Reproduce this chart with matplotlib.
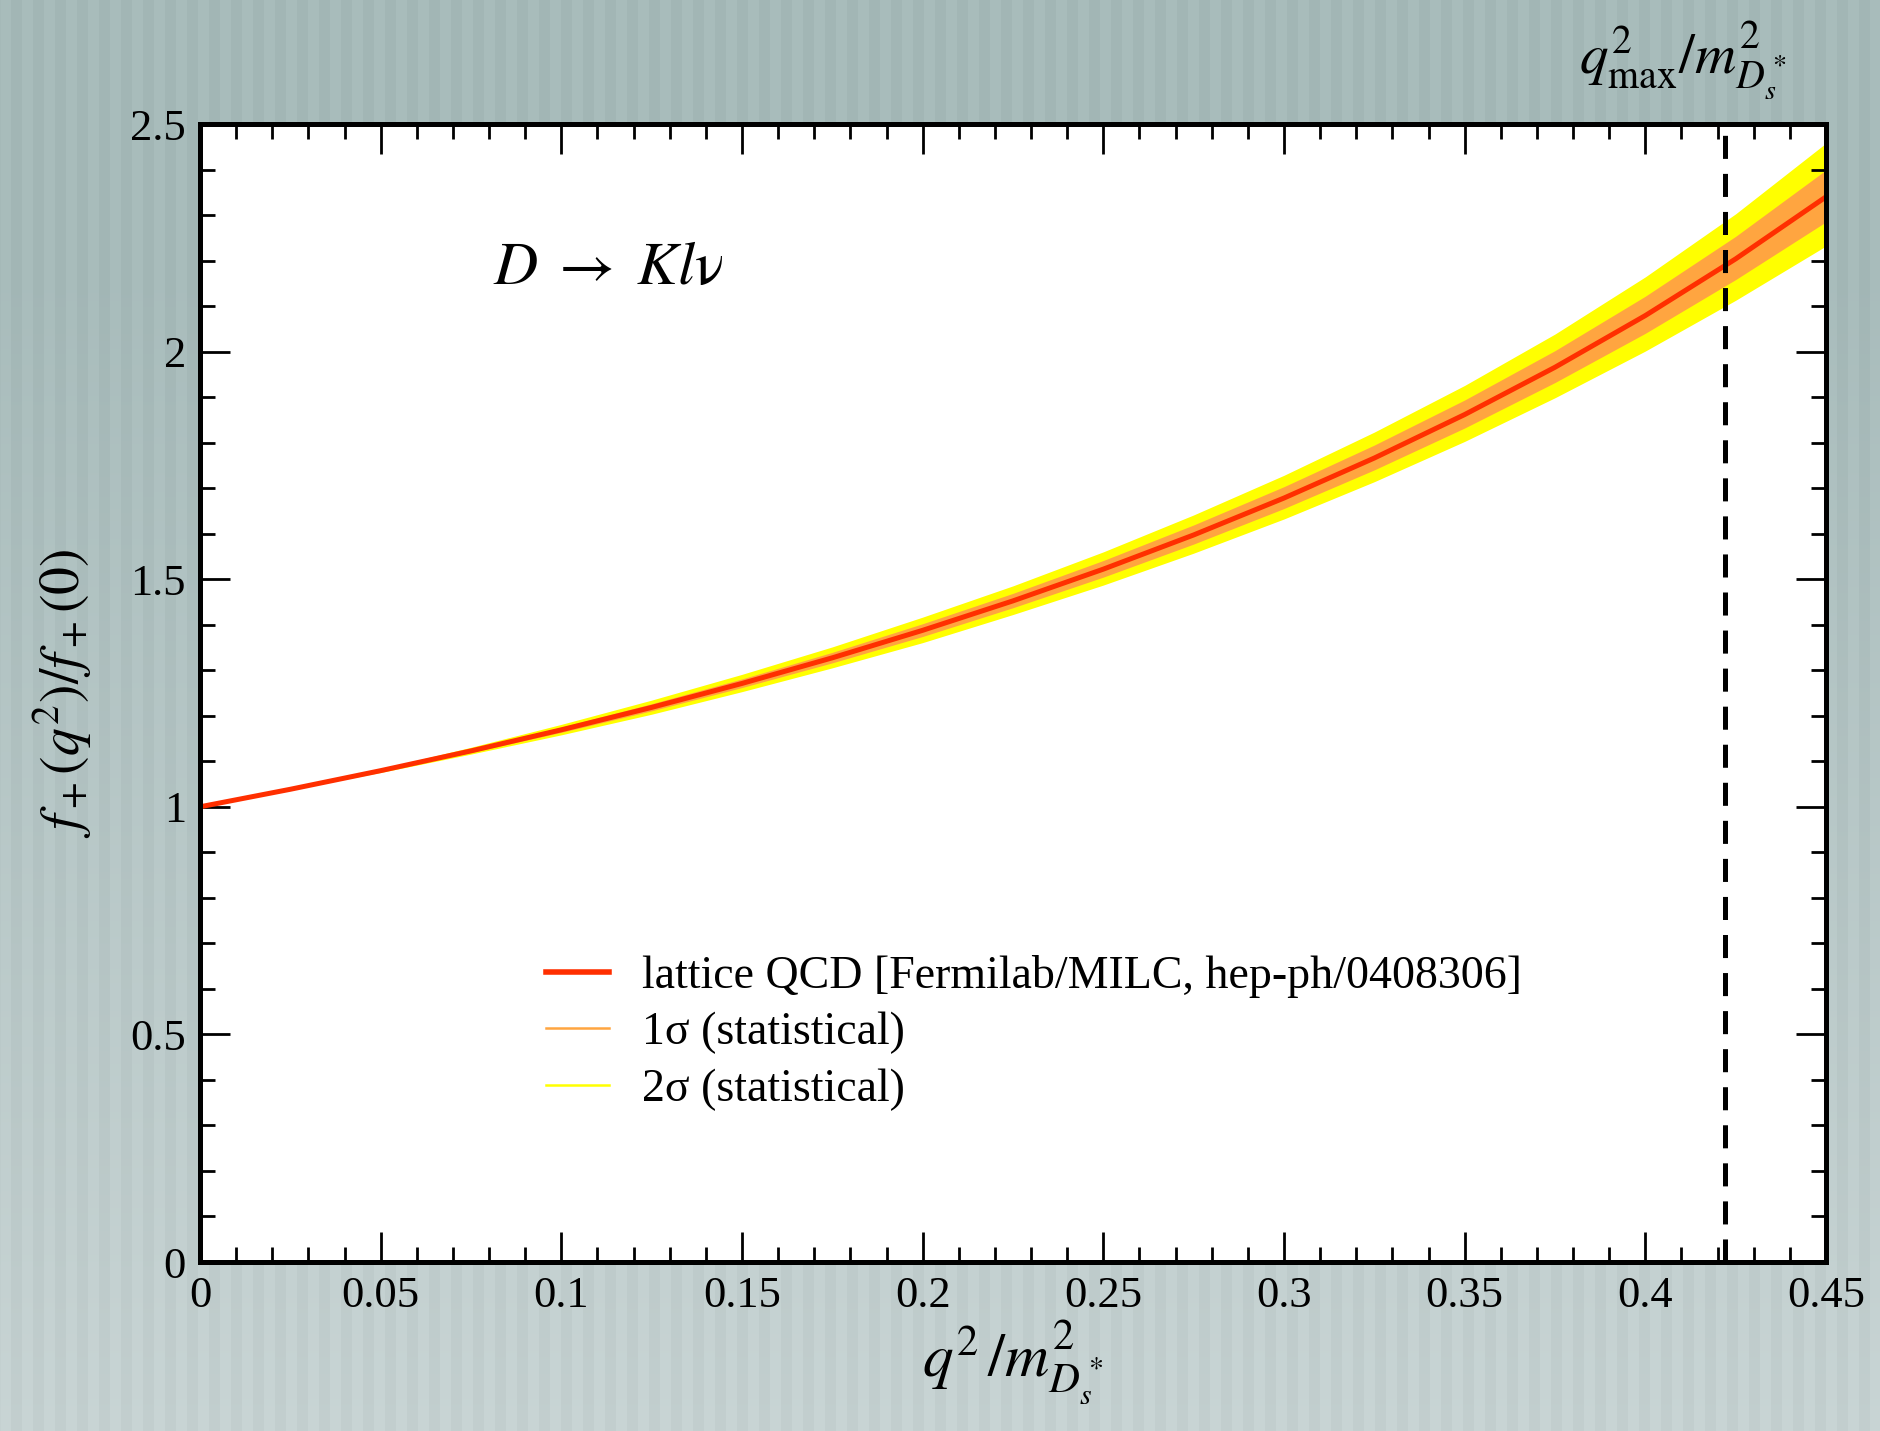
import numpy as np
import matplotlib
matplotlib.use("Agg")
import matplotlib.pyplot as plt
from matplotlib.lines import Line2D
from matplotlib.ticker import MultipleLocator

# ---- data ----
q2_ratio = [0.000, 0.025, 0.050, 0.075, 0.100, 0.125, 0.150, 0.175, 0.200, 0.225,
            0.250, 0.275, 0.300, 0.325, 0.350, 0.375, 0.400, 0.425, 0.450]
f_ratio = [1.000, 1.0385, 1.0794, 1.1228, 1.1691, 1.2184, 1.2710, 1.3273, 1.3877, 1.4524,
           1.5221, 1.5972, 1.6783, 1.7662, 1.8617, 1.9656, 2.0792, 2.2037, 2.3400]
sig1_hi = [1.000, 1.0390, 1.0814, 1.1268, 1.1751, 1.2264, 1.2810, 1.3393, 1.4022, 1.4689,
           1.5411, 1.6192, 1.7033, 1.7947, 1.8937, 2.0021, 2.1217, 2.2532, 2.3990]
sig1_lo = [1.000, 1.0380, 1.0774, 1.1193, 1.1636, 1.2109, 1.2620, 1.3163, 1.3742, 1.4374,
           1.5046, 1.5772, 1.6553, 1.7402, 1.8322, 1.9321, 2.0402, 2.1582, 2.2850]
sig2_hi = [1.000, 1.0395, 1.0834, 1.1308, 1.1811, 1.2344, 1.2910, 1.3513, 1.4167, 1.4854,
           1.5601, 1.6412, 1.7283, 1.8232, 1.9257, 2.0386, 2.1642, 2.3027, 2.4580]
sig2_lo = [1.000, 1.0375, 1.0754, 1.1158, 1.1581, 1.2034, 1.2530, 1.3053, 1.3607, 1.4224,
           1.4871, 1.5572, 1.6323, 1.7142, 1.8027, 1.8986, 2.0012, 2.1127, 2.2320]
q2max_ratio = 0.422
legend_labels = ["lattice QCD [Fermilab/MILC, hep-ph/0408306]",
                 "1σ (statistical)", "2σ (statistical)"]

plt.rcParams['font.family'] = ['Liberation Serif', 'DejaVu Serif']
plt.rcParams['mathtext.fontset'] = 'stix'

W, H, DPI = 1880, 1431, 100
fig = plt.figure(figsize=(W / DPI, H / DPI), dpi=DPI)

# background: grey-teal gradient with faint vertical stripes (decoration)
bg = fig.add_axes([0, 0, 1, 1], zorder=-10)
bg.set_axis_off()
xx = np.linspace(0, 1, W)
yy = np.linspace(0, 1, H)
X, Y = np.meshgrid(xx, yy)
top = np.array([0.650, 0.728, 0.725])
bot = np.array([0.775, 0.822, 0.822])
t = np.clip((Y - 0.2) / 0.8, 0, 1)[..., None]
img = top * (1 - t) + bot * t
stripe = 0.012 * np.sign(np.sin(2 * np.pi * X * W / 22.0))[..., None]
img = np.clip(img + stripe, 0, 1)
bg.imshow(img, origin='upper', aspect='auto', extent=[0, 1, 0, 1])

ax = fig.add_axes([200 / W, 1 - 1262 / H, 1626 / W, 1138 / H])
ax.set_facecolor('white')

ax.fill_between(q2_ratio, sig2_lo, sig2_hi, color='#ffff00', lw=0, zorder=1)
ax.fill_between(q2_ratio, sig1_lo, sig1_hi, color='#ffa540', lw=0, zorder=2)
ax.plot(q2_ratio, f_ratio, color='#ff2f00', lw=3.6, zorder=3, solid_capstyle='butt')

lw_d = 3.6
ax.axvline(q2max_ratio, color='black', lw=lw_d,
           linestyle=(0, (16.6 / lw_d, 10.8 / lw_d)), zorder=4)

ax.set_xlim(0, 0.45)
ax.set_ylim(0, 2.5)
ax.xaxis.set_major_locator(MultipleLocator(0.05))
ax.xaxis.set_minor_locator(MultipleLocator(0.01))
ax.yaxis.set_major_locator(MultipleLocator(0.5))
ax.yaxis.set_minor_locator(MultipleLocator(0.1))
ax.set_xticks([0, 0.05, 0.1, 0.15, 0.2, 0.25, 0.3, 0.35, 0.4, 0.45])
ax.set_xticklabels(['0', '0.05', '0.1', '0.15', '0.2', '0.25', '0.3', '0.35', '0.4', '0.45'])
ax.set_yticks([0, 0.5, 1, 1.5, 2, 2.5])
ax.set_yticklabels(['0', '0.5', '1', '1.5', '2', '2.5'])
ax.tick_params(which='both', direction='in', top=True, right=True, width=2.0,
               labelsize=32, color='black')
ax.tick_params(which='major', length=21.5, pad=10)
ax.tick_params(which='minor', length=10.8)
for s in ax.spines.values():
    s.set_linewidth(3.6)
    s.set_zorder(5)

ax.set_xlabel(r'$q^{2}\,/m^{2}_{D_s^*}$', fontsize=44, labelpad=2)
ax.set_ylabel(r'$f_+(q^{2})/f_+(0)$', fontsize=40, labelpad=26)

ax.text(0.081, 2.18, r'$D\;\rightarrow\;Kl\mathrm{\nu}$', fontsize=44, va='center', ha='left')

ax.text(0.4105, 1.056, r'$q^{2}_{\rm max}/m^{2}_{D_s^*}$', fontsize=41,
        transform=ax.get_xaxis_transform(), ha='center', va='center', clip_on=False)

handles = [Line2D([], [], color='#ff2f00', lw=4.0),
           Line2D([], [], color='#ffa540', lw=1.8),
           Line2D([], [], color='#ffff00', lw=1.8)]
ax.legend(handles, legend_labels, loc='upper left', bbox_to_anchor=(0.2128, 0.270),
          frameon=False, fontsize=33, handlelength=1.38, handletextpad=0.72,
          labelspacing=0.31, borderpad=0, borderaxespad=0)

fig.savefig('out.png', dpi=DPI)
